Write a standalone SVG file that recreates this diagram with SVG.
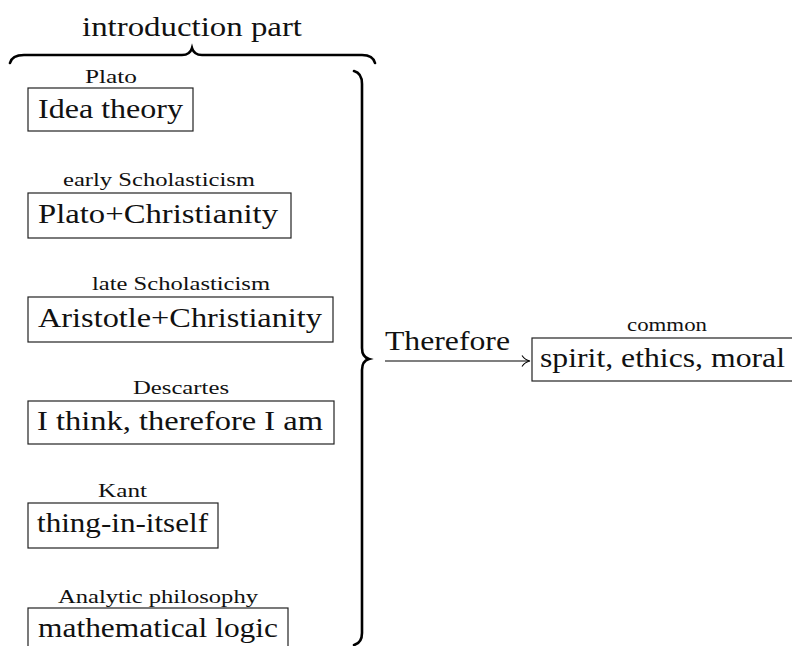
<svg xmlns="http://www.w3.org/2000/svg" width="792" height="646" viewBox="0 0 792 646">
<style>
.bg{fill:#fff}
.box{fill:none;stroke:#222;stroke-width:1.2}
.main{font-family:'Liberation Serif','Times New Roman','DejaVu Serif',serif;font-size:28px;fill:#111}
.lbl{font-family:'Liberation Serif','Times New Roman','DejaVu Serif',serif;font-size:18px;fill:#111}
.brace{fill:none;stroke:#000;stroke-width:2.6;stroke-linecap:round}
.conn{fill:none;stroke:#000;stroke-width:1.1}
</style>
<rect class="bg" x="0" y="0" width="792" height="646"/>
<g id="intro-brace">
<path class="brace" d="M10,63 Q12,55 24,55 L182,55 Q190,55 192,48 Q194,55 202,55 L362,55 Q373,55 375,63"/>
<text class="main" x="82" y="36" textLength="220" lengthAdjust="spacingAndGlyphs">introduction part</text>
</g>
<g id="n-plato">
<text class="lbl" x="85" y="83" textLength="52" lengthAdjust="spacingAndGlyphs">Plato</text>
<rect class="box" x="28" y="88" width="165" height="43"/>
<text class="main" x="38" y="118" textLength="145" lengthAdjust="spacingAndGlyphs">Idea theory</text>
</g>
<g id="n-early">
<text class="lbl" x="63" y="186" textLength="192" lengthAdjust="spacingAndGlyphs">early Scholasticism</text>
<rect class="box" x="28" y="193" width="263" height="45"/>
<text class="main" x="38" y="223" textLength="240" lengthAdjust="spacingAndGlyphs">Plato+Christianity</text>
</g>
<g id="n-late">
<text class="lbl" x="92" y="290" textLength="178" lengthAdjust="spacingAndGlyphs">late Scholasticism</text>
<rect class="box" x="28" y="297" width="305" height="45"/>
<text class="main" x="38" y="327" textLength="284" lengthAdjust="spacingAndGlyphs">Aristotle+Christianity</text>
</g>
<g id="n-descartes">
<text class="lbl" x="133" y="394" textLength="96" lengthAdjust="spacingAndGlyphs">Descartes</text>
<rect class="box" x="28" y="401" width="306" height="43"/>
<text class="main" x="37" y="430" textLength="286" lengthAdjust="spacingAndGlyphs">I think, therefore I am</text>
</g>
<g id="n-kant">
<text class="lbl" x="98" y="497" textLength="49" lengthAdjust="spacingAndGlyphs">Kant</text>
<rect class="box" x="28" y="503" width="190" height="45"/>
<text class="main" x="37" y="532" textLength="171" lengthAdjust="spacingAndGlyphs">thing-in-itself</text>
</g>
<g id="n-analytic">
<text class="lbl" x="58" y="603" textLength="200" lengthAdjust="spacingAndGlyphs">Analytic philosophy</text>
<rect class="box" x="28" y="608" width="260" height="44"/>
<text class="main" x="38" y="637" textLength="240" lengthAdjust="spacingAndGlyphs">mathematical logic</text>
</g>
<g id="n-common">
<text class="lbl" x="627" y="331" textLength="80" lengthAdjust="spacingAndGlyphs">common</text>
<rect class="box" x="532" y="338" width="270" height="43"/>
<text class="main" x="540" y="367" textLength="245" lengthAdjust="spacingAndGlyphs">spirit, ethics, moral</text>
</g>
<g id="connectors">
<path class="brace" d="M354,71 Q362,73 362,84 L362,348 Q362,357 369,359 Q362,361 362,370 L362,633 Q362,643 354,645"/>
<path class="conn" d="M385,361 L529,361"/>
<path class="conn" d="M522,355.5 Q525,360 530,361 Q525,362 522,366.5"/>
<text class="main" x="385" y="350" textLength="125" lengthAdjust="spacingAndGlyphs">Therefore</text>
</g>
</svg>
